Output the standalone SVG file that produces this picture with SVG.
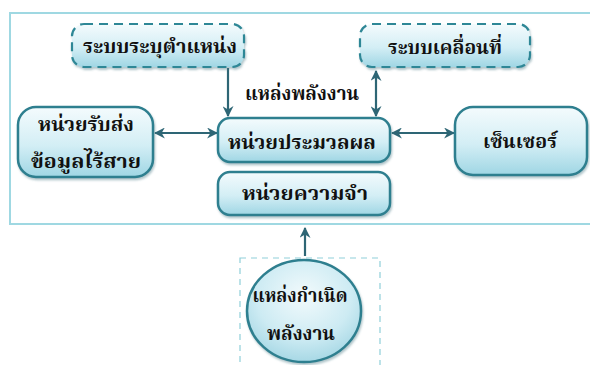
<svg xmlns="http://www.w3.org/2000/svg" width="590" height="365" viewBox="0 0 590 365">
  <defs>
    <linearGradient id="boxFill" x1="0" y1="0" x2="0" y2="1">
      <stop offset="0" stop-color="#f4fbfd"/>
      <stop offset="0.55" stop-color="#d3eef5"/>
      <stop offset="1" stop-color="#9fd6e4"/>
    </linearGradient>
    <radialGradient id="ovalFill" cx="0.5" cy="0.35" r="0.7">
      <stop offset="0" stop-color="#f2fafc"/>
      <stop offset="0.6" stop-color="#cdebf3"/>
      <stop offset="1" stop-color="#9fd4e2"/>
    </radialGradient>
    <filter id="shadow" x="-10%" y="-10%" width="125%" height="135%">
      <feDropShadow dx="1" dy="2" stdDeviation="1.2" flood-color="#4d7f8a" flood-opacity="0.45"/>
    </filter>
    <marker id="arrow" viewBox="0 0 10 10" refX="9" refY="5" markerWidth="5" markerHeight="5" orient="auto-start-reverse">
      <path d="M0,0 L10,5 L0,10 L3,5 Z" fill="#2e6675"/>
    </marker>
  </defs>
  <style>
    .box { fill: url(#boxFill); stroke: #2f7f8f; stroke-width: 2.5; filter: url(#shadow); }
    .dash { fill: url(#boxFill); stroke: #2f8796; stroke-width: 2.2; stroke-dasharray: 9 6; filter: url(#shadow); }
    .frame { fill: none; stroke: #9fd8e2; stroke-width: 2; }
    .link { stroke: #2e6675; stroke-width: 2.2; fill: none; }
    .lbl { font-family: "Noto Serif Thai", "Norasi", "Tlwg Typo", "Noto Sans Thai", "DejaVu Serif", serif; font-weight: bold; font-size: 19px; fill: #111; text-anchor: middle; }
  </style>

  <!-- main enclosure -->
  <rect class="frame" x="10" y="13" width="590" height="211"/>

  <!-- connectors -->
  <g id="connectors">
    <line class="link" x1="228" y1="68" x2="228" y2="116" marker-end="url(#arrow)"/>
    <line class="link" x1="376" y1="71" x2="376" y2="116" marker-start="url(#arrow)" marker-end="url(#arrow)"/>
    <line class="link" x1="155" y1="133" x2="217" y2="133" marker-start="url(#arrow)" marker-end="url(#arrow)"/>
    <line class="link" x1="392" y1="133" x2="454" y2="133" marker-start="url(#arrow)" marker-end="url(#arrow)"/>
    <line class="link" x1="305" y1="256" x2="305" y2="228" marker-end="url(#arrow)"/>
    <text class="lbl" x="302" y="100" textLength="114" lengthAdjust="spacingAndGlyphs">แหล่งพลังงาน</text>
  </g>

  <g id="positioning">
    <rect class="dash" x="72" y="24" width="172" height="43" rx="12"/>
    <text class="lbl" x="160" y="53" textLength="154" lengthAdjust="spacingAndGlyphs">ระบบระบุตำแหน่ง</text>
  </g>

  <g id="locomotion">
    <rect class="dash" x="360" y="24" width="170" height="43" rx="12"/>
    <text class="lbl" x="445" y="54" textLength="114" lengthAdjust="spacingAndGlyphs">ระบบเคลื่อนที่</text>
  </g>

  <g id="wireless">
    <rect class="box" x="18" y="107" width="135" height="70" rx="18"/>
    <text class="lbl" x="86" y="131" textLength="96" lengthAdjust="spacingAndGlyphs">หน่วยรับส่ง</text>
    <text class="lbl" x="86" y="168" textLength="110" lengthAdjust="spacingAndGlyphs">ข้อมูลไร้สาย</text>
  </g>

  <g id="processor">
    <rect class="box" x="218" y="118" width="172" height="44" rx="12"/>
    <text class="lbl" x="302" y="149" textLength="148" lengthAdjust="spacingAndGlyphs">หน่วยประมวลผล</text>
  </g>

  <g id="memory">
    <rect class="box" x="218" y="172" width="172" height="43" rx="12"/>
    <text class="lbl" x="305" y="200" textLength="126" lengthAdjust="spacingAndGlyphs">หน่วยความจำ</text>
  </g>

  <g id="sensor">
    <rect class="box" x="455" y="107" width="132" height="68" rx="18"/>
    <text class="lbl" x="520" y="148" textLength="74" lengthAdjust="spacingAndGlyphs">เซ็นเซอร์</text>
  </g>

  <g id="power-source">
    <rect x="240" y="258" width="140" height="110" fill="none" stroke="#8fcfd9" stroke-width="1.2" stroke-dasharray="6 5"/>
    <ellipse cx="304" cy="311" rx="57" ry="51" fill="url(#ovalFill)" stroke="#2f7f8f" stroke-width="2.5" filter="url(#shadow)"/>
    <text class="lbl" x="300" y="302" textLength="95" lengthAdjust="spacingAndGlyphs">แหล่งกำเนิด</text>
    <text class="lbl" x="301" y="340" textLength="68" lengthAdjust="spacingAndGlyphs">พลังงาน</text>
  </g>
</svg>
